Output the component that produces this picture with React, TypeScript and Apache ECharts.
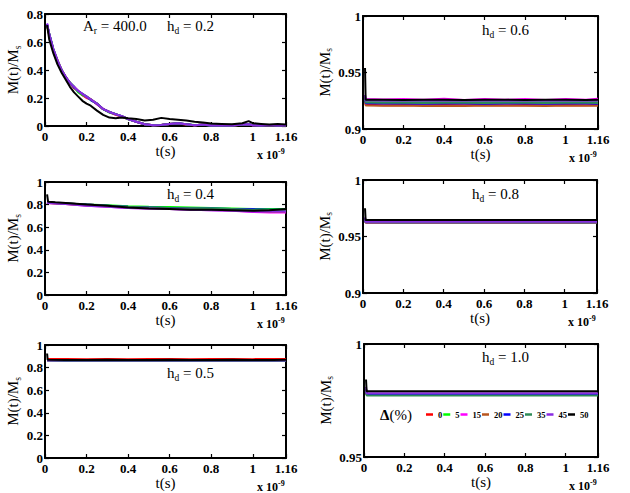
import React, { useEffect, useRef } from "react";
import * as echarts from "echarts";

const FONT = "'Liberation Serif', 'Times New Roman', serif";

const seriesNames = ["0", "5", "15", "20", "25", "35", "45", "50"];
const seriesColors = ["#ff0000", "#00ff00", "#ff00ff", "#b8561f", "#0000ff", "#2e8b57", "#8a2be2", "#000000"];

const xTickLabels = ["0", "0.2", "0.4", "0.6", "0.8", "1", "1.16"];

// time samples (units of 1e-9 s)
const tDecay = [0.01, 0.02, 0.04, 0.06, 0.08, 0.10, 0.12, 0.14, 0.16, 0.18, 0.20, 0.22, 0.25, 0.28, 0.31, 0.34, 0.37, 0.40, 0.44, 0.48, 0.52, 0.56, 0.60, 0.64, 0.68, 0.72, 0.76, 0.80, 0.85, 0.90, 0.95, 0.98, 1.00, 1.04, 1.08, 1.12, 1.16];
const tSlow = [0.01, 0.015, 0.05, 0.1, 0.2, 0.3, 0.4, 0.5, 0.6, 0.7, 0.8, 0.9, 1.0, 1.08, 1.16];
const tFlat = [0.01, 0.013, 0.1, 0.2, 0.3, 0.4, 0.5, 0.6, 0.7, 0.8, 0.9, 1.0, 1.1, 1.16];

// h_d = 0.2 (order: 0,5,15,20,25,35,45,50)
const hd02_0 = [0.72, 0.65, 0.54, 0.46, 0.40, 0.35, 0.31, 0.27, 0.25, 0.22, 0.20, 0.19, 0.155, 0.12, 0.10, 0.08, 0.065, 0.05, 0.03, 0.013, 0.006, 0.008, 0.014, 0.018, 0.011, 0.006, 0.009, 0.005, 0.006, 0.004, 0.009, 0.011, 0.006, 0.005, 0.007, 0.004, 0.006];
const hd02_5 = [0.72, 0.66, 0.55, 0.46, 0.40, 0.34, 0.31, 0.28, 0.24, 0.22, 0.21, 0.185, 0.16, 0.12, 0.095, 0.085, 0.068, 0.048, 0.03, 0.013, 0.006, 0.009, 0.014, 0.019, 0.012, 0.007, 0.009, 0.004, 0.006, 0.004, 0.009, 0.012, 0.007, 0.004, 0.008, 0.005, 0.006];
const hd02_15 = [0.73, 0.65, 0.55, 0.47, 0.39, 0.35, 0.30, 0.28, 0.25, 0.23, 0.205, 0.19, 0.155, 0.125, 0.10, 0.082, 0.07, 0.05, 0.029, 0.012, 0.005, 0.009, 0.015, 0.019, 0.012, 0.006, 0.01, 0.005, 0.006, 0.003, 0.01, 0.011, 0.006, 0.004, 0.008, 0.004, 0.005];
const hd02_20 = [0.72, 0.66, 0.54, 0.47, 0.40, 0.35, 0.305, 0.275, 0.25, 0.225, 0.21, 0.19, 0.16, 0.12, 0.10, 0.084, 0.069, 0.05, 0.03, 0.012, 0.006, 0.008, 0.015, 0.02, 0.011, 0.006, 0.01, 0.004, 0.005, 0.003, 0.01, 0.012, 0.006, 0.004, 0.007, 0.004, 0.006];
const hd02_25 = [0.73, 0.66, 0.55, 0.46, 0.40, 0.35, 0.31, 0.275, 0.25, 0.23, 0.21, 0.185, 0.16, 0.12, 0.10, 0.085, 0.07, 0.049, 0.03, 0.012, 0.005, 0.008, 0.015, 0.02, 0.012, 0.006, 0.009, 0.004, 0.006, 0.003, 0.01, 0.012, 0.006, 0.004, 0.008, 0.004, 0.006];
const hd02_35 = [0.72, 0.66, 0.55, 0.47, 0.40, 0.345, 0.31, 0.28, 0.245, 0.23, 0.21, 0.19, 0.16, 0.12, 0.10, 0.085, 0.07, 0.05, 0.03, 0.012, 0.005, 0.008, 0.015, 0.02, 0.012, 0.006, 0.01, 0.004, 0.006, 0.003, 0.01, 0.012, 0.006, 0.004, 0.008, 0.004, 0.006];
const hd02_45 = [0.73, 0.66, 0.55, 0.47, 0.40, 0.35, 0.31, 0.28, 0.25, 0.23, 0.21, 0.19, 0.16, 0.12, 0.10, 0.085, 0.07, 0.05, 0.03, 0.012, 0.005, 0.008, 0.015, 0.02, 0.012, 0.006, 0.01, 0.004, 0.006, 0.003, 0.01, 0.012, 0.006, 0.004, 0.008, 0.004, 0.006];
const hd02_50 = [0.72, 0.62, 0.52, 0.44, 0.38, 0.33, 0.28, 0.24, 0.21, 0.18, 0.16, 0.145, 0.11, 0.08, 0.06, 0.055, 0.06, 0.055, 0.05, 0.04, 0.045, 0.058, 0.05, 0.045, 0.04, 0.03, 0.025, 0.018, 0.015, 0.012, 0.02, 0.035, 0.02, 0.015, 0.01, 0.015, 0.01];

// h_d = 0.4
const hd04_0 = [0.82, 0.82, 0.815, 0.81, 0.80, 0.79, 0.78, 0.775, 0.77, 0.765, 0.76, 0.755, 0.75, 0.75, 0.75];
const hd04_5 = [0.82, 0.82, 0.815, 0.81, 0.80, 0.795, 0.785, 0.78, 0.778, 0.775, 0.77, 0.765, 0.76, 0.76, 0.76];
const hd04_15 = [0.82, 0.815, 0.81, 0.805, 0.79, 0.78, 0.77, 0.765, 0.76, 0.755, 0.75, 0.745, 0.735, 0.73, 0.73];
const hd04_20 = [0.82, 0.815, 0.81, 0.805, 0.795, 0.785, 0.775, 0.77, 0.765, 0.76, 0.755, 0.75, 0.745, 0.74, 0.74];
const hd04_25 = [0.82, 0.82, 0.815, 0.81, 0.80, 0.79, 0.78, 0.775, 0.77, 0.765, 0.765, 0.76, 0.76, 0.755, 0.755];
const hd04_35 = [0.82, 0.82, 0.815, 0.81, 0.80, 0.79, 0.78, 0.775, 0.77, 0.768, 0.765, 0.76, 0.755, 0.755, 0.75];
const hd04_45 = [0.82, 0.815, 0.81, 0.805, 0.79, 0.78, 0.77, 0.765, 0.76, 0.755, 0.75, 0.745, 0.74, 0.74, 0.74];
const hd04_50 = [0.89, 0.825, 0.82, 0.815, 0.80, 0.79, 0.775, 0.765, 0.76, 0.755, 0.755, 0.75, 0.745, 0.75, 0.76];

// h_d = 0.5
const hd05_0 = [0.876, 0.876, 0.876, 0.875, 0.876, 0.875, 0.876, 0.876, 0.875, 0.876, 0.876, 0.875, 0.876, 0.876];
const hd05_5 = [0.864, 0.862, 0.861, 0.862, 0.861, 0.862, 0.861, 0.861, 0.862, 0.861, 0.862, 0.861, 0.861, 0.862];
const hd05_15 = [0.866, 0.865, 0.864, 0.865, 0.864, 0.865, 0.864, 0.865, 0.864, 0.865, 0.864, 0.865, 0.864, 0.865];
const hd05_20 = [0.866, 0.864, 0.864, 0.863, 0.864, 0.863, 0.864, 0.863, 0.864, 0.863, 0.864, 0.863, 0.864, 0.863];
const hd05_25 = [0.865, 0.863, 0.862, 0.862, 0.863, 0.862, 0.862, 0.863, 0.862, 0.862, 0.863, 0.862, 0.862, 0.863];
const hd05_35 = [0.866, 0.864, 0.863, 0.864, 0.863, 0.863, 0.864, 0.863, 0.863, 0.864, 0.863, 0.863, 0.864, 0.863];
const hd05_45 = [0.866, 0.865, 0.865, 0.864, 0.865, 0.865, 0.864, 0.865, 0.865, 0.864, 0.865, 0.865, 0.864, 0.865];
const hd05_50 = [0.925, 0.869, 0.868, 0.868, 0.869, 0.868, 0.868, 0.869, 0.868, 0.868, 0.869, 0.868, 0.868, 0.869];

// h_d = 0.6
const hd06_0 = [0.925, 0.9215, 0.921, 0.9212, 0.921, 0.9212, 0.921, 0.9212, 0.921, 0.9212, 0.921, 0.9212, 0.921, 0.9212];
const hd06_5 = [0.93, 0.9245, 0.924, 0.9238, 0.924, 0.9238, 0.924, 0.9238, 0.924, 0.9238, 0.924, 0.9238, 0.924, 0.9238];
const hd06_15 = [0.93, 0.9265, 0.926, 0.9266, 0.9258, 0.9267, 0.9257, 0.9266, 0.9258, 0.9266, 0.9257, 0.9266, 0.9258, 0.9267];
const hd06_20 = [0.925, 0.9208, 0.9205, 0.9207, 0.9204, 0.9206, 0.9204, 0.9207, 0.9205, 0.9206, 0.9204, 0.9207, 0.9205, 0.9206];
const hd06_25 = [0.928, 0.9228, 0.9225, 0.9226, 0.9224, 0.9226, 0.9225, 0.9224, 0.9226, 0.9225, 0.9224, 0.9226, 0.9225, 0.9224];
const hd06_35 = [0.928, 0.9235, 0.9232, 0.9233, 0.9231, 0.9233, 0.9232, 0.9231, 0.9233, 0.9232, 0.9231, 0.9233, 0.9232, 0.9231];
const hd06_45 = [0.93, 0.9252, 0.925, 0.9251, 0.925, 0.9251, 0.925, 0.9251, 0.925, 0.9251, 0.925, 0.9251, 0.925, 0.9251];
const hd06_50 = [0.954, 0.9258, 0.9258, 0.9257, 0.9258, 0.9258, 0.9257, 0.9258, 0.9258, 0.9257, 0.9258, 0.9258, 0.9257, 0.9258];

// h_d = 0.8
const hd08_0 = [0.966, 0.9625, 0.9625, 0.9624, 0.9625, 0.9625, 0.9624, 0.9625, 0.9625, 0.9624, 0.9625, 0.9625, 0.9624, 0.9625];
const hd08_5 = [0.966, 0.9625, 0.9624, 0.9625, 0.9625, 0.9624, 0.9625, 0.9625, 0.9624, 0.9625, 0.9625, 0.9624, 0.9625, 0.9625];
const hd08_15 = [0.966, 0.9626, 0.9626, 0.9625, 0.9626, 0.9626, 0.9625, 0.9626, 0.9626, 0.9625, 0.9626, 0.9626, 0.9625, 0.9626];
const hd08_20 = [0.966, 0.9624, 0.9624, 0.9623, 0.9624, 0.9624, 0.9623, 0.9624, 0.9624, 0.9623, 0.9624, 0.9624, 0.9623, 0.9624];
const hd08_25 = [0.966, 0.9627, 0.9627, 0.9626, 0.9627, 0.9627, 0.9626, 0.9627, 0.9627, 0.9626, 0.9627, 0.9627, 0.9626, 0.9627];
const hd08_35 = [0.966, 0.9628, 0.9628, 0.9627, 0.9628, 0.9628, 0.9627, 0.9628, 0.9628, 0.9627, 0.9628, 0.9628, 0.9627, 0.9628];
const hd08_45 = [0.967, 0.963, 0.963, 0.9631, 0.963, 0.963, 0.9631, 0.963, 0.963, 0.9631, 0.963, 0.963, 0.9631, 0.963];
const hd08_50 = [0.975, 0.9645, 0.9645, 0.9645, 0.9645, 0.9645, 0.9645, 0.9645, 0.9645, 0.9645, 0.9645, 0.9645, 0.9645, 0.9645];

// h_d = 1.0
const hd10_0 = [0.980, 0.9776, 0.9776, 0.9775, 0.9776, 0.9776, 0.9775, 0.9776, 0.9776, 0.9775, 0.9776, 0.9776, 0.9775, 0.9776];
const hd10_5 = [0.980, 0.9777, 0.9777, 0.9776, 0.9777, 0.9777, 0.9776, 0.9777, 0.9777, 0.9776, 0.9777, 0.9777, 0.9776, 0.9777];
const hd10_15 = [0.980, 0.9778, 0.9778, 0.9777, 0.9778, 0.9778, 0.9777, 0.9778, 0.9778, 0.9777, 0.9778, 0.9778, 0.9777, 0.9778];
const hd10_20 = [0.980, 0.9776, 0.9776, 0.9776, 0.9775, 0.9776, 0.9776, 0.9776, 0.9775, 0.9776, 0.9776, 0.9776, 0.9775, 0.9776];
const hd10_25 = [0.980, 0.9779, 0.9779, 0.9778, 0.9779, 0.9779, 0.9778, 0.9779, 0.9779, 0.9778, 0.9779, 0.9779, 0.9778, 0.9779];
const hd10_35 = [0.980, 0.9772, 0.9772, 0.9772, 0.9772, 0.9772, 0.9772, 0.9772, 0.9772, 0.9772, 0.9772, 0.9772, 0.9772, 0.9772];
const hd10_45 = [0.981, 0.9782, 0.9782, 0.9782, 0.9782, 0.9782, 0.9782, 0.9782, 0.9782, 0.9782, 0.9782, 0.9782, 0.9782, 0.9782];
const hd10_50 = [0.9843, 0.9791, 0.9791, 0.9791, 0.9791, 0.9791, 0.9791, 0.9791, 0.9791, 0.9791, 0.9791, 0.9791, 0.9791, 0.9791];

const hdLabels = ["0.2", "0.6", "0.4", "0.8", "0.5", "1.0"];

type Panel = {
  grid: { left: number; top: number; width: number; height: number };
  yMin: number; yMax: number; yInt: number;
  time: number[];
  values: number[][];
  yNameGap: number;
  label: { x: number; y: number };
};

const panels: Panel[] = [
  { grid: { left: 45, top: 14, width: 241, height: 112 }, yMin: 0, yMax: 0.8, yInt: 0.2, time: tDecay,
    values: [hd02_0, hd02_5, hd02_15, hd02_20, hd02_25, hd02_35, hd02_45, hd02_50], yNameGap: 20, label: { x: 167, y: 26 } },
  { grid: { left: 363, top: 16, width: 235, height: 113 }, yMin: 0.9, yMax: 1, yInt: 0.05, time: tFlat,
    values: [hd06_0, hd06_5, hd06_15, hd06_20, hd06_25, hd06_35, hd06_45, hd06_50], yNameGap: 24, label: { x: 482, y: 30 } },
  { grid: { left: 45, top: 182, width: 241, height: 113 }, yMin: 0, yMax: 1, yInt: 0.2, time: tSlow,
    values: [hd04_0, hd04_5, hd04_15, hd04_20, hd04_25, hd04_35, hd04_45, hd04_50], yNameGap: 20, label: { x: 167, y: 194 } },
  { grid: { left: 363, top: 180, width: 234, height: 113 }, yMin: 0.9, yMax: 1, yInt: 0.05, time: tFlat,
    values: [hd08_0, hd08_5, hd08_15, hd08_20, hd08_25, hd08_35, hd08_45, hd08_50], yNameGap: 24, label: { x: 472, y: 194 } },
  { grid: { left: 45, top: 345, width: 241, height: 113 }, yMin: 0, yMax: 1, yInt: 0.2, time: tFlat,
    values: [hd05_0, hd05_5, hd05_15, hd05_20, hd05_25, hd05_35, hd05_45, hd05_50], yNameGap: 20, label: { x: 167, y: 373 } },
  { grid: { left: 364, top: 344, width: 234, height: 113 }, yMin: 0.95, yMax: 1, yInt: 0.05, time: tFlat,
    values: [hd10_0, hd10_5, hd10_15, hd10_20, hd10_25, hd10_35, hd10_45, hd10_50], yNameGap: 24, label: { x: 482, y: 357 } },
];

const subRich = {
  sub: { fontFamily: FONT, fontSize: 9.5, lineHeight: 9, verticalAlign: "bottom", color: "#000" },
};

function buildOption() {
  const grids: any[] = [];
  const xAxes: any[] = [];
  const yAxes: any[] = [];
  const series: any[] = [];
  const graphics: any[] = [];
  const lineStyle = { color: "#000", width: 2 };
  const tick = { show: true, inside: true, length: 4, lineStyle: { color: "#000", width: 1.2 } };
  const labelStyle = { fontFamily: FONT, fontWeight: "bold", fontSize: 13, color: "#000" };

  panels.forEach((p, i) => {
    grids.push({ ...p.grid });
    xAxes.push({
      type: "value", gridIndex: i, min: 0, max: 1.16, interval: 0.2,
      axisLine: { show: true, onZero: false, lineStyle },
      axisTick: tick,
      axisLabel: { ...labelStyle, margin: 4, formatter: (v: number) => {
        const s = String(Math.round(v * 100) / 100);
        return xTickLabels.includes(s) ? s : "";
      } },
      splitLine: { show: false },
      name: "t(s)", nameLocation: "middle", nameGap: 14,
      nameTextStyle: { fontFamily: FONT, fontSize: 15, color: "#000" },
    });
    xAxes.push({
      type: "value", gridIndex: i, position: "top", min: 0, max: 1.16, interval: 0.2,
      axisLine: { show: true, onZero: false, lineStyle },
      axisTick: tick, axisLabel: { show: false }, splitLine: { show: false },
    });
    yAxes.push({
      type: "value", gridIndex: i, min: p.yMin, max: p.yMax, interval: p.yInt,
      axisLine: { show: true, onZero: false, lineStyle },
      axisTick: tick,
      axisLabel: { ...labelStyle, margin: 2 },
      splitLine: { show: false },
      name: "M(t)/M{sub|s}", nameLocation: "middle", nameGap: p.yNameGap,
      nameTextStyle: { fontFamily: FONT, fontSize: 15, lineHeight: 19, color: "#000", rich: subRich },
    });
    yAxes.push({
      type: "value", gridIndex: i, position: "right", min: p.yMin, max: p.yMax, interval: p.yInt,
      axisLine: { show: true, onZero: false, lineStyle },
      axisTick: tick, axisLabel: { show: false }, splitLine: { show: false },
    });
    p.values.forEach((vals, k) => {
      series.push({
        name: seriesNames[k], type: "line", xAxisIndex: i * 2, yAxisIndex: i * 2,
        data: p.time.map((t, j) => [t, vals[j]]),
        showSymbol: false, symbol: "none", silent: true,
        lineStyle: { width: 2, color: seriesColors[k] },
        itemStyle: { color: seriesColors[k] },
        z: 2 + k,
      });
    });
    const g = p.grid;
    graphics.push({
      type: "text", x: g.left + g.width - 29, y: g.top + g.height + 29,
      style: {
        text: "x 10{sup|-9}", fontFamily: FONT, fontWeight: "bold", fontSize: 12, lineHeight: 16,
        fill: "#000", verticalAlign: "middle",
        rich: { sup: { fontFamily: FONT, fontWeight: "bold", fontSize: 8, lineHeight: 8, verticalAlign: "top", fill: "#000" } },
      },
    });
    graphics.push({
      type: "text", x: p.label.x, y: p.label.y,
      style: {
        text: "h{sub|d} = " + hdLabels[i], fontFamily: FONT, fontSize: 15, lineHeight: 19,
        fill: "#000", verticalAlign: "middle", rich: subRich,
      },
    });
  });

  graphics.push({
    type: "text", x: 83, y: 26,
    style: {
      text: "A{sub|r} = 400.0", fontFamily: FONT, fontSize: 15, lineHeight: 19,
      fill: "#000", verticalAlign: "middle", rich: subRich,
    },
  });
  graphics.push({
    type: "text", x: 380, y: 415,
    style: {
      text: "{b|Δ}(%)", fontFamily: FONT, fontSize: 15, fill: "#000", verticalAlign: "middle",
      rich: { b: { fontFamily: FONT, fontSize: 15, fontWeight: "bold", fill: "#000" } },
    },
  });

  return {
    animation: false,
    backgroundColor: "#fff",
    grid: grids,
    xAxis: xAxes,
    yAxis: yAxes,
    series,
    legend: {
      data: seriesNames, left: 426, top: 410, icon: "rect", itemWidth: 7, itemHeight: 2.5, itemGap: 1,
      selectedMode: false, padding: 0,
      textStyle: { fontFamily: FONT, fontWeight: "bold", fontSize: 8.5, color: "#000" },
    },
    graphic: graphics,
  };
}

export default function App() {
  const ref = useRef<HTMLDivElement>(null);
  useEffect(() => {
    if (!ref.current) return;
    const chart = echarts.init(ref.current, undefined, { renderer: "svg" });
    chart.setOption(buildOption() as any);
    return () => chart.dispose();
  }, []);
  return (
    <div
      ref={ref}
      style={{ position: "absolute", left: 0, top: 0, width: 630, height: 493, background: "#fff" }}
    />
  );
}
